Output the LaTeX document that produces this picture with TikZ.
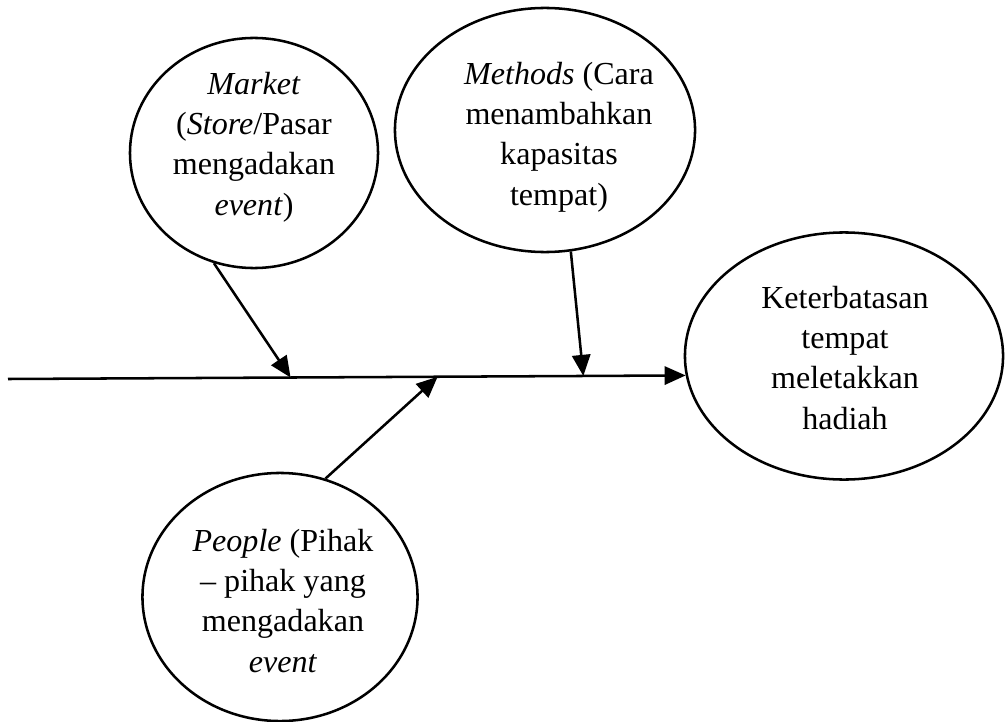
\documentclass[tikz,border=0pt]{standalone}
\usepackage{fontspec}
\setmainfont{Liberation Serif}
\usetikzlibrary{shapes,arrows.meta,positioning,calc}

\begin{document}
\begin{tikzpicture}[x=0.025cm, y=-0.025cm,
    bubble/.style={ellipse, draw, line width=1.8pt, inner sep=0pt},
    words/.style={align=center, inner sep=0pt, anchor=base, font=\fontsize{22.8}{28.5}\selectfont},
    cause/.style={-{Triangle[length=15pt,width=13pt]}, line width=1.8pt}]
    \useasboundingbox (0,0) rectangle (1005,722);
    % ellips penyebab dan akibat
    \node[bubble, minimum width=6.2cm, minimum height=5.75cm] (market) at (254,153) {};
    \node[bubble, minimum width=7.5cm, minimum height=6.1cm] (methods) at (545,130) {};
    \node[bubble, minimum width=7.95cm, minimum height=6.175cm] (effect) at (844,356) {};
    \node[bubble, minimum width=6.875cm, minimum height=6.2cm] (people) at (280,597) {};
    % teks di dalam ellips
    \node[words] (marketText) at (254,215) {\textit{Market}\\(\textit{Store}/Pasar\\mengadakan\\\textit{event})};
    \node[words] (methodsText) at (559,205) {\textit{Methods} (Cara\\menambahkan\\kapasitas\\tempat)};
    \node[words] (effectText) at (845,429) {Keterbatasan\\tempat\\meletakkan\\hadiah};
    \node[words] (peopleText) at (283,672) {\textit{People} (Pihak\\-- pihak yang\\mengadakan\\\textit{event}};
    % tulang utama
    \coordinate (tail) at (8,379);
    \draw[cause] (tail) -- (effect.187);
    \coordinate (marketTip) at ($(tail)!0.417!(effect.187)$);
    \coordinate (methodsTip) at ($(tail)!0.849!(effect.187)$);
    \coordinate (peopleTip) at ($(tail)!0.634!(effect.187)$);
    % panah penyebab
    \draw[cause] (market.250) -- (marketTip);
    \draw[cause] (methods.282) -- (methodsTip);
    \draw[cause] (people.69) -- (peopleTip);
\end{tikzpicture}
\end{document}
